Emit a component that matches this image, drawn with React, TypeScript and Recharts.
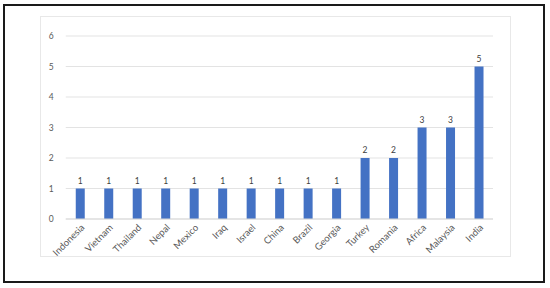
import { Bar, BarChart, CartesianGrid, LabelList, XAxis, YAxis } from "recharts";

const countries = [
  "Indonesia",
  "Vietnam",
  "Thailand",
  "Nepal",
  "Mexico",
  "Iraq",
  "Israel",
  "China",
  "Brazil",
  "Georgia",
  "Turkey",
  "Romania",
  "Africa",
  "Malaysia",
  "India",
];
const counts = [1, 1, 1, 1, 1, 1, 1, 1, 1, 1, 2, 2, 3, 3, 5];
const yTicks = [0, 1, 2, 3, 4, 5, 6];

const data = countries.map((name, i) => ({ name, value: counts[i] }));

const FONT = "Lato, 'Open Sans', sans-serif";

function CountryTick({ x, y, payload }: any) {
  return (
    <g transform={`translate(${x + 3},${y - 1})`}>
      <text
        x={0}
        y={0}
        dy={3}
        textAnchor="end"
        transform="rotate(-45)"
        fill="#595959"
        fontSize={9.5}
        fontFamily={FONT}
      >
        {payload.value}
      </text>
    </g>
  );
}

export default function App() {
  return (
    <div style={{ position: "absolute", left: 0, top: 0, width: 550, height: 288, background: "#fff" }}>
      <div
        style={{
          position: "absolute",
          left: 3,
          top: 4,
          width: 538,
          height: 275,
          border: "2px solid #1a1a1a",
        }}
      />
      <div
        style={{
          position: "absolute",
          left: 40,
          top: 16,
          width: 469,
          height: 239,
          border: "1px solid #e8e8e8",
        }}
      />
      <div style={{ position: "absolute", left: 0, top: 0 }}>
        <BarChart
          width={550}
          height={288}
          data={data}
          margin={{ top: 36, right: 57, bottom: 0, left: 0 }}
        >
          <CartesianGrid vertical={false} stroke="#e3e3e3" strokeWidth={1} />
          <XAxis
            dataKey="name"
            interval={0}
            height={69}
            axisLine={{ stroke: "#d9d9d9" }}
            tickLine={false}
            tick={<CountryTick />}
          />
          <YAxis
            width={65.75}
            domain={[0, 6]}
            ticks={yTicks}
            axisLine={false}
            tickLine={false}
            tickMargin={6}
            tick={{ fill: "#595959", fontSize: 8.5, fontFamily: FONT }}
          />
          <Bar dataKey="value" fill="#4472C4" barSize={9} isAnimationActive={false}>
            <LabelList
              dataKey="value"
              position="top"
              offset={5}
              fill="#404040"
              fontSize={8.5}
              fontFamily={FONT}
            />
          </Bar>
        </BarChart>
      </div>
    </div>
  );
}
